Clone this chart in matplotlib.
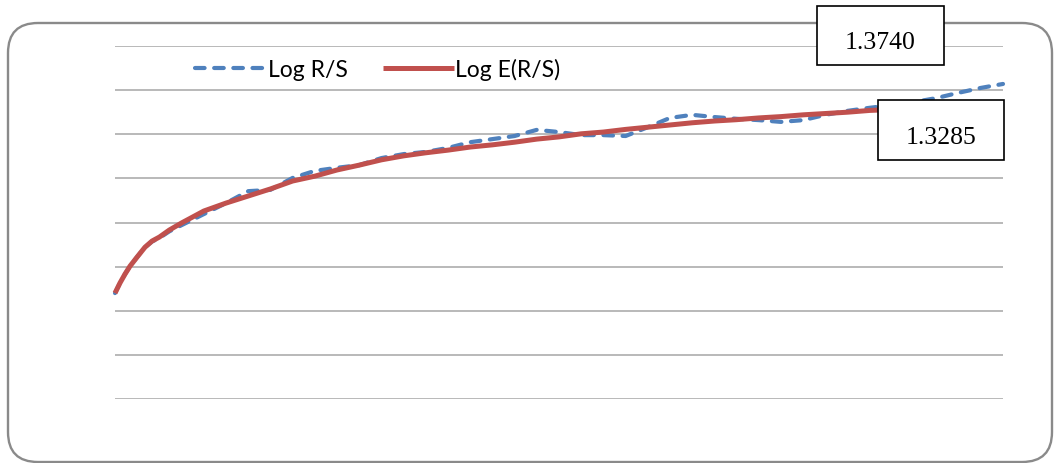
import matplotlib
matplotlib.use("Agg")
import matplotlib.pyplot as plt
from matplotlib.patches import FancyBboxPatch, Rectangle

# sample positions along log n (denser where the curve bends at the start)
log_n = [
    0, 0.225, 0.45, 0.675, 1, 1.35, 1.67, 2, 2.45, 3,
    4, 5, 6, 7, 8, 9, 10, 11, 12, 13,
    14, 15, 16, 17, 18, 19, 20, 21, 22, 23,
    24, 25, 26, 27, 28, 29, 30, 31, 32, 33,
    34, 35, 36, 37, 38, 39, 40,
]
# observed Log R/S
log_rs = [
    0.900, 0.923, 0.943, 0.961, 0.982, 1.004, 1.017, 1.025, 1.040, 1.054,
    1.079, 1.104, 1.131, 1.134, 1.161, 1.177, 1.184, 1.190, 1.206, 1.215,
    1.220, 1.229, 1.242, 1.249, 1.256, 1.270, 1.265, 1.258, 1.258, 1.256,
    1.276, 1.297, 1.304, 1.299, 1.295, 1.292, 1.288, 1.292, 1.304, 1.313,
    1.320, 1.326, 1.333, 1.342, 1.354, 1.365, 1.3740,
]
# expected Log E(R/S)
log_ers = [
    0.900, 0.923, 0.943, 0.961, 0.982, 1.004, 1.018, 1.027, 1.043, 1.059,
    1.086, 1.104, 1.120, 1.136, 1.154, 1.165, 1.179, 1.190, 1.202, 1.211,
    1.218, 1.224, 1.231, 1.236, 1.242, 1.249, 1.254, 1.261, 1.265, 1.271,
    1.276, 1.281, 1.286, 1.290, 1.293, 1.297, 1.300, 1.304, 1.307, 1.310,
    1.314, 1.316, 1.320, 1.322, 1.324, 1.326, 1.3285,
]
series_labels = ["Log R/S", "Log E(R/S)"]
end_labels = ["1.3740", "1.3285"]

y_min, y_max = 0.66, 1.46
grid_levels = [round(y_min + 0.1 * k, 2) for k in range(9)]

W, H = 1056, 464
fig = plt.figure(figsize=(W / 100, H / 100), dpi=100)
ax = fig.add_axes([115 / W, (H - 400) / H, 888 / W, 353 / H])

ax.plot(log_n, log_rs, color="#4F81BD", lw=3.0, dashes=(2.3, 2.3),
        dash_capstyle="round", label=series_labels[0], zorder=3, clip_on=False)
ax.plot(log_n, log_ers, color="#C0504D", lw=3.6, solid_capstyle="butt",
        solid_joinstyle="round", label=series_labels[1], zorder=4, clip_on=False)

ax.set_xlim(log_n[0], log_n[-1])
ax.set_ylim(y_min, y_max)
ax.set_yticks(grid_levels)
ax.set_xticks([])
ax.yaxis.grid(True, color="#a6a6a6", lw=1.1)
ax.tick_params(left=False, labelleft=False)
for s in ax.spines.values():
    s.set_visible(False)
ax.set_axisbelow(True)

inch = fig.dpi_scale_trans
ax.legend(loc="center left", bbox_to_anchor=(1.84, (H - 70) / 100),
          bbox_transform=inch, ncol=2, frameon=False, borderpad=0,
          handlelength=3.1, handletextpad=0.05, columnspacing=1.55,
          prop={"family": "Lato", "size": 16.5})

# rounded chart border
border = FancyBboxPatch((0.08, 0.01), 10.44, 4.39,
                        boxstyle="round,pad=0,rounding_size=0.3",
                        transform=inch, facecolor="none",
                        edgecolor="#8a8a8a", lw=1.7, zorder=1)
fig.patches.append(border)

# value boxes
boxes = [(8.17, 3.98, 1.27, 0.59), (8.78, 3.03, 1.26, 0.60)]
for (bx, by, bw, bh), txt in zip(boxes, end_labels):
    fig.patches.append(Rectangle((bx, by), bw, bh, transform=inch,
                                 facecolor="white", edgecolor="black",
                                 lw=1.2, zorder=6))
    fig.text(bx + bw / 2, by + bh / 2 - 0.07, txt, transform=inch,
             ha="center", va="center", family="Liberation Serif",
             size=18.5, zorder=7)

fig.savefig("out.png", dpi=100)
